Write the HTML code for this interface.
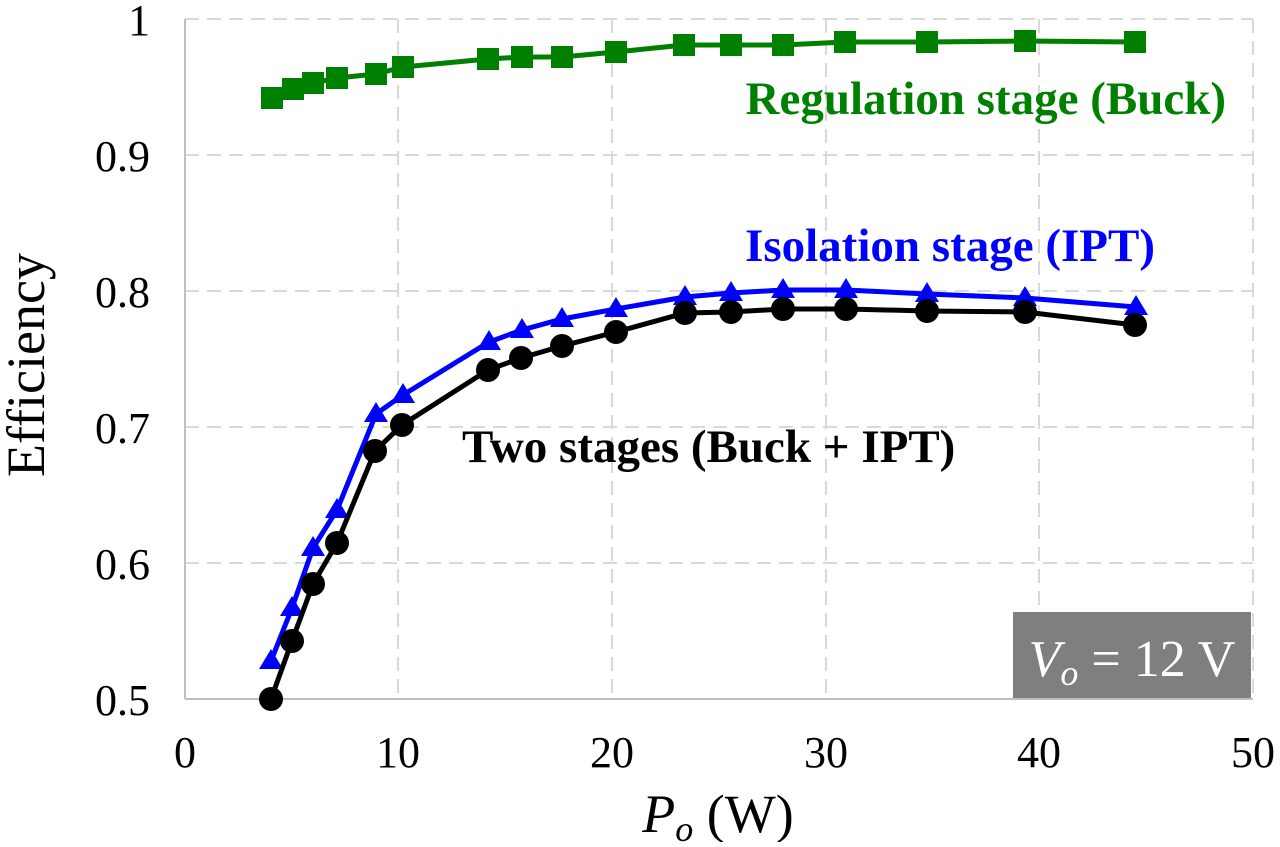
<!DOCTYPE html><html><head><meta charset="utf-8"><style>body{margin:0;background:#fff}</style></head><body>
<svg width="1280" height="842" xmlns="http://www.w3.org/2000/svg" font-family="Liberation Serif, serif">
<g stroke="#d9d9d9" stroke-width="2" stroke-dasharray="14,8" fill="none">
<line x1="398" y1="19" x2="398" y2="699"/><line x1="612" y1="19" x2="612" y2="699"/><line x1="826" y1="19" x2="826" y2="699"/><line x1="1039" y1="19" x2="1039" y2="699"/><line x1="1253" y1="19" x2="1253" y2="699"/>
<line x1="185" y1="19" x2="1253" y2="19"/><line x1="185" y1="155" x2="1253" y2="155"/><line x1="185" y1="291" x2="1253" y2="291"/><line x1="185" y1="427" x2="1253" y2="427"/><line x1="185" y1="563" x2="1253" y2="563"/>
</g>
<g stroke="#bfbfbf" stroke-width="2"><line x1="185" y1="19" x2="185" y2="699"/><line x1="185" y1="699" x2="1253" y2="699"/></g>
<g font-size="44" fill="#000" text-anchor="end">
<text x="150" y="35">1</text><text x="150" y="171">0.9</text><text x="150" y="307">0.8</text><text x="150" y="443">0.7</text><text x="150" y="579">0.6</text><text x="150" y="715">0.5</text></g>
<g font-size="44" text-anchor="middle"><text x="185" y="767">0</text><text x="398" y="767">10</text><text x="612" y="767">20</text><text x="826" y="767">30</text><text x="1039" y="767">40</text><text x="1253" y="767">50</text></g>
<text x="718" y="832" font-size="54" text-anchor="middle"><tspan font-style="italic">P</tspan><tspan font-style="italic" font-size="36" dy="9">o</tspan><tspan dy="-9"> (W)</tspan></text>
<text transform="translate(44,365) rotate(-90)" font-size="54" text-anchor="middle">Efficiency</text>
<polyline fill="none" stroke="#008000" stroke-width="5" points="272,98 293,89 313,83 337,78 376,74 403,67 488,59 522,57 562,57 616,52 684,45 731,45 783,45 845,42 927,42 1025,41 1135,42"/>
<g fill="#008000">
<rect x="261" y="87" width="22" height="22"/><rect x="282" y="78" width="22" height="22"/><rect x="302" y="72" width="22" height="22"/><rect x="326" y="67" width="22" height="22"/><rect x="365" y="63" width="22" height="22"/><rect x="392" y="56" width="22" height="22"/><rect x="477" y="48" width="22" height="22"/><rect x="511" y="46" width="22" height="22"/><rect x="551" y="46" width="22" height="22"/><rect x="605" y="41" width="22" height="22"/><rect x="673" y="34" width="22" height="22"/><rect x="720" y="34" width="22" height="22"/><rect x="772" y="34" width="22" height="22"/><rect x="834" y="31" width="22" height="22"/><rect x="916" y="31" width="22" height="22"/><rect x="1014" y="30" width="22" height="22"/><rect x="1124" y="31" width="22" height="22"/></g>
<polyline fill="none" stroke="#0000ff" stroke-width="5" points="271,661 292,608 313,548 337,510 376,414 403,395 489,342 522,330 562,319 616,309 685,297 731,293 783,290 846,290 927,294 1025,298 1136,307"/>
<g fill="#0000ff">
<path d="M271,649l12,20h-24z"/><path d="M292,596l12,20h-24z"/><path d="M313,536l12,20h-24z"/><path d="M337,498l12,20h-24z"/><path d="M376,402l12,20h-24z"/><path d="M403,383l12,20h-24z"/><path d="M489,330l12,20h-24z"/><path d="M522,318l12,20h-24z"/><path d="M562,307l12,20h-24z"/><path d="M616,297l12,20h-24z"/><path d="M685,285l12,20h-24z"/><path d="M731,281l12,20h-24z"/><path d="M783,278l12,20h-24z"/><path d="M846,278l12,20h-24z"/><path d="M927,282l12,20h-24z"/><path d="M1025,286l12,20h-24z"/><path d="M1136,295l12,20h-24z"/></g>
<polyline fill="none" stroke="#000" stroke-width="5" points="271,699 292,641 313,584 337,543 375,451 402,425 488,370 521,358 562,346 616,332 685,313 731,312 783,309 846,309 927,311 1025,312 1135,325"/>
<g fill="#000">
<circle cx="271" cy="699" r="12"/><circle cx="292" cy="641" r="12"/><circle cx="313" cy="584" r="12"/><circle cx="337" cy="543" r="12"/><circle cx="375" cy="451" r="12"/><circle cx="402" cy="425" r="12"/><circle cx="488" cy="370" r="12"/><circle cx="521" cy="358" r="12"/><circle cx="562" cy="346" r="12"/><circle cx="616" cy="332" r="12"/><circle cx="685" cy="313" r="12"/><circle cx="731" cy="312" r="12"/><circle cx="783" cy="309" r="12"/><circle cx="846" cy="309" r="12"/><circle cx="927" cy="311" r="12"/><circle cx="1025" cy="312" r="12"/><circle cx="1135" cy="325" r="12"/></g>
<text x="1226" y="114" font-size="47" font-weight="bold" fill="#008000" text-anchor="end">Regulation stage (Buck)</text>
<text x="1155" y="261" font-size="47" font-weight="bold" fill="#0000ff" text-anchor="end">Isolation stage (IPT)</text>
<text x="462" y="462" font-size="47" font-weight="bold" fill="#000">Two stages (Buck + IPT)</text>
<rect x="1013" y="612" width="238" height="86" fill="#7f7f7f"/>
<text x="1132" y="676" font-size="52" fill="#fff" text-anchor="middle"><tspan font-style="italic">V</tspan><tspan font-style="italic" font-size="36" dy="9">o</tspan><tspan dy="-9"> = 12 V</tspan></text>
</svg></body></html>
